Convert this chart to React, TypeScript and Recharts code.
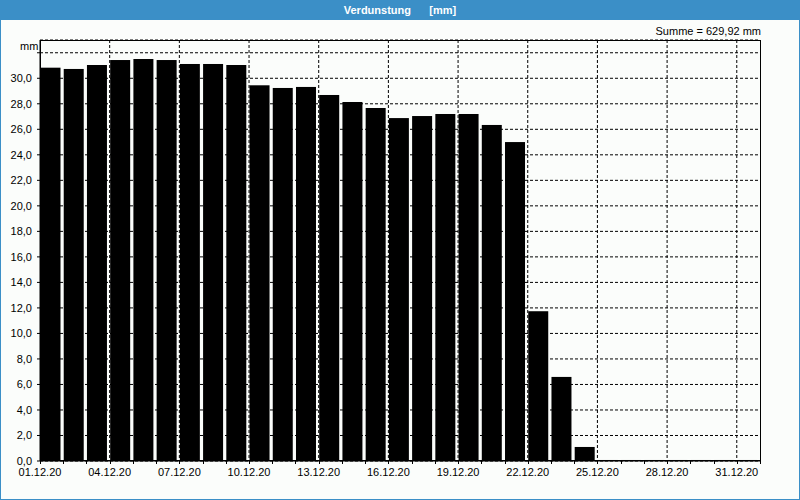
import React from 'react';
import { BarChart, Bar, XAxis, YAxis, CartesianGrid } from 'recharts';

// Tageswerte Dezember 2020
const DAYS = [
  '01.12.20', '02.12.20', '03.12.20', '04.12.20', '05.12.20', '06.12.20', '07.12.20', '08.12.20',
  '09.12.20', '10.12.20', '11.12.20', '12.12.20', '13.12.20', '14.12.20', '15.12.20', '16.12.20',
  '17.12.20', '18.12.20', '19.12.20', '20.12.20', '21.12.20', '22.12.20', '23.12.20', '24.12.20',
  '25.12.20', '26.12.20', '27.12.20', '28.12.20', '29.12.20', '30.12.20', '31.12.20',
];

const VERDUNSTUNG = [
  30.83, 30.73, 31.04, 31.43, 31.51, 31.43, 31.12, 31.12,
  31.04, 29.45, 29.24, 29.32, 28.69, 28.14, 27.67, 26.88,
  27.04, 27.2, 27.2, 26.34, 25.0, 11.74, 6.59, 1.1,
  0.08, 0.08, 0.08, 0.08, 0.08, 0.08, 0.08,
];

const Y_TICKS = [0, 2, 4, 6, 8, 10, 12, 14, 16, 18, 20, 22, 24, 26, 28, 30, 32];
const GRID_DAYS = [3, 6, 9, 12, 15, 18, 21, 24, 27, 30];

const BLUE = '#3b8fc7';
const FONT = '"Liberation Sans", Arial, sans-serif';

// plot area
const PLOT_LEFT = 40;
const PLOT_TOP = 40;
const PLOT_WIDTH = 720;
const PLOT_HEIGHT = 421;
const BAND = PLOT_WIDTH / DAYS.length;

const data = DAYS.map((day, i) => ({ day, value: VERDUNSTUNG[i] }));

const tickStyle = { fill: '#000', fontSize: 11, fontFamily: FONT };

const BarShape = (props: any) => (
  <rect x={props.x - 1.5} y={props.y} width={props.width} height={props.height} fill="#000" />
);

// tick marks sit on the day boundaries, labels every third day
const DayTick = (props: any) => {
  const { x, y, payload } = props;
  const i = payload.index;
  const left = Math.round(x - BAND / 2) + 0.5;
  const right = Math.round(x + BAND / 2) + 0.5;
  return (
    <g>
      <line x1={left} x2={left} y1={y} y2={y + 3} stroke="#000" />
      {i === DAYS.length - 1 && <line x1={right} x2={right} y1={y} y2={y + 3} stroke="#000" />}
      {i % 3 === 0 && (
        <text x={x - BAND / 2} y={y + 7} dy="0.71em" textAnchor="middle" {...tickStyle}>
          {DAYS[i]}
        </text>
      )}
    </g>
  );
};

export default function App() {
  const gridX = GRID_DAYS.map((d) => PLOT_LEFT + d * BAND);
  return (
    <div
      style={{
        position: 'absolute', left: 0, top: 0, width: 800, height: 500,
        boxSizing: 'border-box', border: `1px solid ${BLUE}`, borderTop: 'none',
        background: '#fbfdfb', fontFamily: FONT,
      }}
    >
      <div
        style={{
          position: 'absolute', left: -1, top: 0, width: 800, height: 20, background: BLUE,
          color: '#fff', fontWeight: 'bold', fontSize: 11, lineHeight: '20px', textAlign: 'center',
          whiteSpace: 'pre',
        }}
      >
        {'Verdunstung      [mm]'}
      </div>
      <div style={{ position: 'absolute', right: 38, top: 25, fontSize: 11, color: '#000' }}>
        Summe = 629,92 mm
      </div>
      <div style={{ position: 'absolute', left: 19, top: 40, fontSize: 11, color: '#000' }}>mm</div>
      <div style={{ position: 'absolute', left: -1, top: 0 }}>
        <BarChart width={800} height={500} data={data} margin={{ top: 40, right: 40, bottom: 9, left: 0 }}>
          <CartesianGrid stroke="#000" strokeDasharray="3 2" verticalPoints={gridX} />
          <XAxis
            dataKey="day"
            interval={0}
            height={30}
            tickSize={0}
            tickMargin={0}
            tickLine={false}
            stroke="#000"
            tick={<DayTick />}
          />
          <YAxis
            domain={[0, 33]}
            allowDataOverflow
            ticks={Y_TICKS}
            interval={0}
            width={40}
            tickSize={3}
            tickMargin={5}
            stroke="#000"
            tick={tickStyle}
            tickFormatter={(v: number) => (v === 32 ? '' : v.toFixed(1).replace('.', ','))}
          />
          <Bar dataKey="value" barSize={20} shape={BarShape} isAnimationActive={false} />
        </BarChart>
      </div>
      {/* solid frame round the plot area */}
      <div
        style={{
          position: 'absolute', left: PLOT_LEFT - 1, top: PLOT_TOP, width: PLOT_WIDTH + 1,
          height: PLOT_HEIGHT, boxSizing: 'border-box', border: '1px solid #000', pointerEvents: 'none',
        }}
      />
    </div>
  );
}
